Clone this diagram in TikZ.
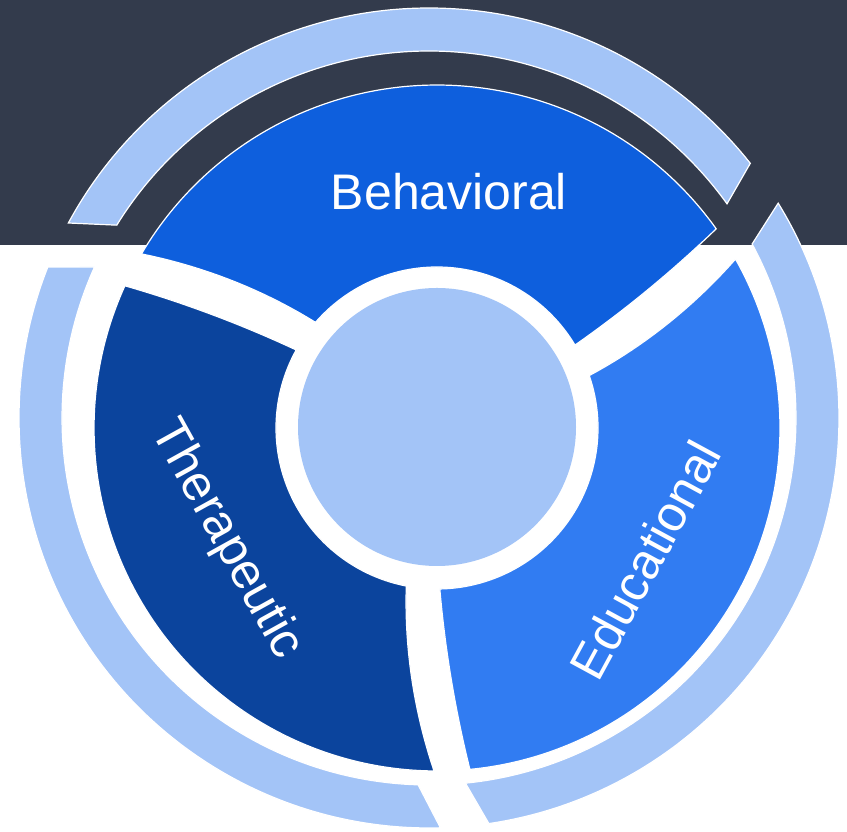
\documentclass[tikz,border=0pt]{standalone}
\usepackage{fontspec}
\setmainfont{Liberation Sans}
\usepackage{tikz}
\definecolor{nightbg}{HTML}{333B4C}
\definecolor{behavblue}{HTML}{0E5FDD}
\definecolor{therapblue}{HTML}{0B449D}
\definecolor{educblue}{HTML}{317CF2}
\definecolor{paleblue}{HTML}{A3C4F7}

\begin{document}
\begin{tikzpicture}[x=1pt,y=1pt,
    arcband/.style={fill=paleblue,draw=white,line width=1.2pt},
    segfill/.style={draw=white,line width=1.2pt},
    segtext/.style={text=white,inner sep=0pt,font=\fontsize{50}{60}\selectfont}]
  \useasboundingbox (0,0) rectangle (847,832);
  \fill[white] (0,0) rectangle (847,832);
  \fill[nightbg] (0,587) rectangle (847,832);
  %
  % outer pale ring, three pieces
  \begin{scope}[shift={(429,414)}]
    \draw[arcband] (35.7:367) -- (38.4:410)
      arc[start angle=38.4,end angle=151.6,radius=410] -- (148.3:367)
      arc[start angle=148.3,end angle=35.7,radius=367] -- cycle;
    \draw[arcband] (155.7:367) -- (158.4:410)
      arc[start angle=158.4,end angle=271.6,radius=410] -- (268.3:367)
      arc[start angle=268.3,end angle=155.7,radius=367] -- cycle;
    \draw[arcband] (275.7:367) -- (278.4:410)
      arc[start angle=278.4,end angle=391.6,radius=410] -- (388.3:367)
      arc[start angle=388.3,end angle=275.7,radius=367] -- cycle;
  \end{scope}
  %
  % the three curved segments
  \begin{scope}[shift={(437,404)}]
    \draw[segfill,fill=behavblue] (31:161)
      -- plot[domain=0:1,samples=20] ({31+4.5*\x}:{161+182*\x})
      arc[start angle=35.5,end angle=149.5,radius=343]
      -- plot[domain=1:0,samples=20] ({139+10.5*\x}:{161+182*\x})
      arc[start angle=139,end angle=31,radius=161] -- cycle;
    \draw[segfill,fill=therapblue] (151:161)
      -- plot[domain=0:1,samples=20] ({151+4.5*\x}:{161+182*\x})
      arc[start angle=155.5,end angle=269.5,radius=343]
      -- plot[domain=1:0,samples=20] ({259+10.5*\x}:{161+182*\x})
      arc[start angle=259,end angle=151,radius=161] -- cycle;
    \draw[segfill,fill=educblue] (271:161)
      -- plot[domain=0:1,samples=20] ({271+4.5*\x}:{161+182*\x})
      arc[start angle=275.5,end angle=389.5,radius=343]
      -- plot[domain=1:0,samples=20] ({379+10.5*\x}:{161+182*\x})
      arc[start angle=379,end angle=271,radius=161] -- cycle;
  \end{scope}
  %
  \fill[paleblue] (437,405) circle[radius=139];
  %
  \node[segtext] (behav) at (449,640) {Behavioral};
  \node[segtext,rotate=-61] (therap) at (226,292) {Therapeutic};
  \node[segtext,rotate=61.5] (educ) at (645,272) {Educational};
\end{tikzpicture}
\end{document}
